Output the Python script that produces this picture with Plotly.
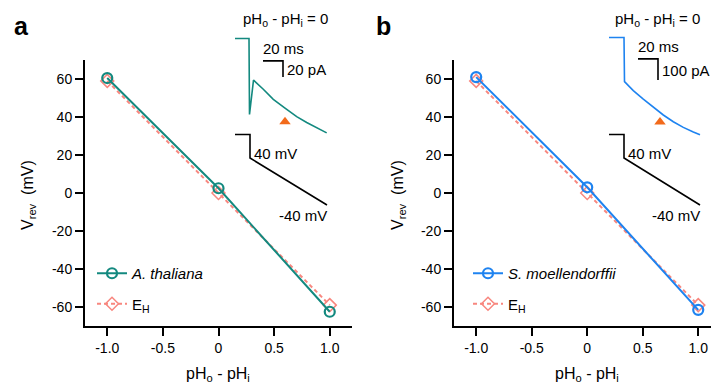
import plotly.graph_objects as go

W, H = 711, 388

# ---------------- data ----------------
dpH = [-1.0, 0.0, 1.0]
vrev_thaliana = [60.5, 2.5, -62.5]
vrev_moell = [61.0, 3.0, -61.5]
eh_a = [59.0, 0.0, -59.0]
eh_b = [59.0, 0.0, -59.0]

x_tickvals = [-1.0, -0.5, 0.0, 0.5, 1.0]
x_ticktext = ["-1.0", "-0.5", "0", "0.5", "1.0"]
y_tickvals = [-60, -40, -20, 0, 20, 40, 60]
y_ticktext = ["-60", "-40", "-20", "0", "20", "40", "60"]

# inset a: current (ms, pA) and voltage protocol (ms, mV)
t_cur_a = [0, 14, 14.5, 18.5, 28.3, 38.3, 50, 61.7, 71.7, 81.7, 91.7]
i_cur_a = [0, 0, -95, -52, -63.5, -76, -87, -97.7, -105, -112, -118]
t_volt_a = [0, 15, 15, 92]
v_volt_a = [80, 80, 40, -40]
arrow_a_t, arrow_a_i = [50], [-104]
bar_a = dict(t0=28, dt=20, i0=-28, di=20)

# inset b
t_cur_b = [0, 15, 15.5, 17, 24.3, 34.3, 44.3, 54.3, 64.3, 74.3, 84.3, 91]
i_cur_b = [0, 0, -210, -218, -253, -293, -332, -369, -401, -428, -450, -463]
t_volt_b = [0, 15, 15, 91]
v_volt_b = [80, 80, 40, -40]
arrow_b_t, arrow_b_i = [51], [-402]
bar_b = dict(t0=29, dt=20, i0=-102, di=100)

TEAL = "#13897f"
BLUE = "#1e83f0"
SALMON = "#f8877f"
ORANGE = "#f26a1b"
FONT = "Liberation Sans, Arial, sans-serif"


def xdom(p0, p1):
    return [p0 / W, p1 / W]


def ydom(top, bot):
    return [1 - bot / H, 1 - top / H]


fig = go.Figure()

# ---- main panels ----
for xa, ya, yv, col, name, eh, leg in [
    ("x", "y", vrev_thaliana, TEAL, "<i>A. thaliana</i>", eh_a, "legend"),
    ("x2", "y2", vrev_moell, BLUE, "<i>S. moellendorffii</i>", eh_b, "legend2"),
]:
    fig.add_trace(go.Scatter(
        x=dpH, y=eh, xaxis=xa, yaxis=ya, mode="lines+markers", name="E<sub>H</sub>",
        line=dict(color=SALMON, width=2, dash="4px,3px"),
        marker=dict(symbol="diamond-open", size=10, color=SALMON, line=dict(width=1.5)),
        legend=leg, legendgroup=leg + "eh", legendrank=2, cliponaxis=False))
    fig.add_trace(go.Scatter(
        x=dpH, y=yv, xaxis=xa, yaxis=ya, mode="lines+markers", name=name,
        line=dict(color=col, width=2),
        marker=dict(symbol="circle-open", size=10, color=col, line=dict(width=2.2)),
        legend=leg, legendgroup=leg + "sp", legendrank=1, cliponaxis=False))

# ---- insets ----
for xa, yc, yvax, tc, ic, tv, vv, col, at, ai, bar in [
    ("x3", "y3", "y4", t_cur_a, i_cur_a, t_volt_a, v_volt_a, TEAL, arrow_a_t, arrow_a_i, bar_a),
    ("x5", "y5", "y6", t_cur_b, i_cur_b, t_volt_b, v_volt_b, BLUE, arrow_b_t, arrow_b_i, bar_b),
]:
    fig.add_trace(go.Scatter(x=tc, y=ic, xaxis=xa, yaxis=yc, mode="lines",
                             line=dict(color=col, width=1.6), showlegend=False))
    fig.add_trace(go.Scatter(x=at, y=ai, xaxis=xa, yaxis=yc, mode="markers",
                             marker=dict(symbol="triangle-up", size=10, color=ORANGE),
                             showlegend=False))
    fig.add_trace(go.Scatter(
        x=[bar["t0"], bar["t0"] + bar["dt"], bar["t0"] + bar["dt"]],
        y=[bar["i0"], bar["i0"], bar["i0"] - bar["di"]],
        xaxis=xa, yaxis=yc, mode="lines", line=dict(color="black", width=1.6),
        showlegend=False))
    fig.add_trace(go.Scatter(x=tv, y=vv, xaxis=xa, yaxis=yvax, mode="lines",
                             line=dict(color="black", width=1.6), showlegend=False))

axis_common = dict(showline=True, linecolor="black", linewidth=2, ticks="outside",
                   ticklen=8, tickwidth=1.5, tickcolor="black", showgrid=False,
                   zeroline=False, tickfont=dict(family=FONT, size=14, color="black"),
                   mirror=False)

hidden = dict(visible=False, showgrid=False, zeroline=False)

fig.update_layout(
    width=W, height=H, margin=dict(l=0, r=0, t=0, b=0),
    paper_bgcolor="white", plot_bgcolor="rgba(0,0,0,0)",
    font=dict(family=FONT, size=14, color="black"),
    xaxis=dict(axis_common, domain=xdom(85, 352), range=[-1.2, 1.2],
               tickvals=x_tickvals, ticktext=x_ticktext, anchor="y"),
    yaxis=dict(axis_common, domain=ydom(60, 326), range=[-70, 70],
               tickvals=y_tickvals, ticktext=y_ticktext, anchor="x"),
    xaxis2=dict(axis_common, domain=xdom(454, 711), range=[-1.2, 1.115],
                tickvals=x_tickvals, ticktext=x_ticktext, anchor="y2"),
    yaxis2=dict(axis_common, domain=ydom(60, 326), range=[-70, 70],
                tickvals=y_tickvals, ticktext=y_ticktext, anchor="x2"),
    xaxis3=dict(hidden, domain=xdom(235, 335), range=[0, 100], anchor="y3"),
    yaxis3=dict(hidden, domain=ydom(28, 140), range=[-126.9, 13.1], anchor="x3"),
    yaxis4=dict(hidden, domain=ydom(125, 220), range=[-65.5, 96.2], anchor="x3"),
    xaxis5=dict(hidden, domain=xdom(609, 709), range=[0, 100], anchor="y5"),
    yaxis5=dict(hidden, domain=ydom(28, 140), range=[-488, 45.2], anchor="x5"),
    yaxis6=dict(hidden, domain=ydom(125, 220), range=[-65.5, 96.2], anchor="x5"),
    legend=dict(x=92 / W, y=1 - 257 / H, xanchor="left", yanchor="top",
                bgcolor="rgba(0,0,0,0)", tracegroupgap=8, traceorder="grouped",
                font=dict(family=FONT, size=15, color="black")),
    legend2=dict(x=468 / W, y=1 - 257 / H, xanchor="left", yanchor="top",
                 bgcolor="rgba(0,0,0,0)", tracegroupgap=8, traceorder="grouped",
                 font=dict(family=FONT, size=15, color="black")),
)

ann = []


def paper_text(text, px, py, size=14, angle=0, xanchor="center", yanchor="middle"):
    ann.append(dict(text=text, x=px / W, y=1 - py / H, xref="paper", yref="paper",
                    showarrow=False, textangle=angle, xanchor=xanchor, yanchor=yanchor,
                    font=dict(family=FONT, size=size, color="black")))


paper_text("<b>a</b>", 12, 26, size=25, xanchor="left")
paper_text("<b>b</b>", 374, 26, size=25, xanchor="left")
paper_text("pH<sub>o</sub> - pH<sub>i</sub> = 0", 285, 19, size=15)
paper_text("pH<sub>o</sub> - pH<sub>i</sub> = 0", 657, 19, size=15)
paper_text("pH<sub>o</sub> - pH<sub>i</sub>", 218, 374, size=16)
paper_text("pH<sub>o</sub> - pH<sub>i</sub>", 587, 374, size=16)
paper_text("V<sub>rev</sub>  (mV)", 28, 195, size=16, angle=-90)
paper_text("V<sub>rev</sub>  (mV)", 398, 195, size=16, angle=-90)


def data_text(text, xr, yr, x, y, xanchor, yanchor, xshift=0, yshift=0):
    ann.append(dict(text=text, x=x, y=y, xref=xr, yref=yr, showarrow=False,
                    xanchor=xanchor, yanchor=yanchor, xshift=xshift, yshift=yshift,
                    font=dict(family=FONT, size=15, color="black")))


for xr, yc, yvr, bar, pa_label, tv, vv in [
    ("x3", "y3", "y4", bar_a, "20 pA", t_volt_a, v_volt_a),
    ("x5", "y5", "y6", bar_b, "100 pA", t_volt_b, v_volt_b),
]:
    data_text("20 ms", xr, yc, bar["t0"], bar["i0"], "left", "bottom", xshift=-2, yshift=2)
    data_text(pa_label, xr, yc, bar["t0"] + bar["dt"], bar["i0"] - bar["di"] / 2,
              "left", "middle", xshift=2, yshift=-1)
    data_text("40 mV", xr, yvr, tv[2], vv[2], "left", "middle", xshift=2, yshift=5)
    data_text("-40 mV", xr, yvr, tv[3], vv[3], "right", "top", xshift=2, yshift=0)

fig.update_layout(annotations=ann)
fig.write_html("out.html", config={"displayModeBar": False},
               post_script="document.body.style.margin='0';")
